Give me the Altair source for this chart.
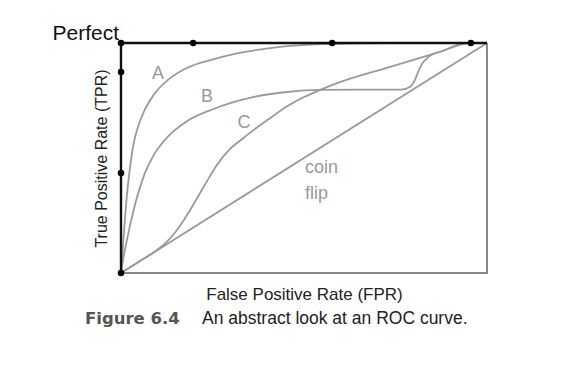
import altair as alt
import pandas as pd

# ROC curves (FPR, TPR)
fpr_A = [0.0, 0.003, 0.008, 0.0145, 0.0238, 0.0328, 0.0464, 0.0648, 0.092, 0.128, 0.178, 0.249, 0.339, 0.434, 0.571, 0.75, 1.0]
tpr_A = [0.0, 0.065, 0.175, 0.31, 0.448, 0.549, 0.636, 0.709, 0.781, 0.839, 0.89, 0.928, 0.961, 0.983, 0.996, 1.0, 1.0]

fpr_B = [0.0, 0.006, 0.0145, 0.028, 0.042, 0.065, 0.092, 0.128, 0.178, 0.251, 0.30, 0.361, 0.454, 0.544, 0.653, 0.765,
         0.79, 0.803, 0.812, 0.822, 0.837, 0.85, 0.872, 0.95, 1.0]
tpr_B = [0.0, 0.06, 0.13, 0.23, 0.32, 0.433, 0.52, 0.593, 0.658, 0.712, 0.74, 0.765, 0.787, 0.796, 0.797, 0.797,
         0.81, 0.84, 0.875, 0.908, 0.935, 0.95, 0.962, 1.0, 1.0]

fpr_C = [0.0, 0.05, 0.095, 0.125, 0.153, 0.189, 0.226, 0.262, 0.298, 0.333, 0.361, 0.40, 0.454, 0.50, 0.544, 0.598,
         0.708, 0.817, 0.872, 0.95, 1.0]
tpr_C = [0.0, 0.05, 0.096, 0.135, 0.187, 0.274, 0.375, 0.47, 0.54, 0.585, 0.62, 0.665, 0.725, 0.765, 0.796, 0.83,
         0.883, 0.935, 0.962, 1.0, 1.0]

coin_fpr = [0.0, 1.0]
coin_tpr = [0.0, 1.0]

# black dots on the "perfect" edges
dot_fpr = [0.0, 0.197, 0.577, 0.956, 0.0, 0.0, 0.0]
dot_tpr = [1.0, 1.0, 1.0, 1.0, 0.874, 0.435, 0.0]

# curve labels
label_text = ["A", "B", "C"]
label_fpr = [0.101, 0.235, 0.336]
label_tpr = [0.865, 0.765, 0.652]
coin_text = ["coin", "flip"]
coin_lab_fpr = [0.503, 0.503]
coin_lab_tpr = [0.457, 0.343]

x_title = "False Positive Rate (FPR)"
y_title = "True Positive Rate (TPR)"
caption_bold = "Figure 6.4"
caption_text = "An abstract look at an ROC curve."

rows = []
for name, xs_, ys_ in [("A", fpr_A, tpr_A), ("B", fpr_B, tpr_B), ("C", fpr_C, tpr_C)]:
    for i, (a, b) in enumerate(zip(xs_, ys_)):
        rows.append({"curve": name, "fpr": a, "tpr": b, "i": i})
curves_df = pd.DataFrame(rows)
coin_df = pd.DataFrame({"fpr": coin_fpr, "tpr": coin_tpr})
dots_df = pd.DataFrame({"fpr": dot_fpr, "tpr": dot_tpr})
labels_df = pd.DataFrame({"t": label_text, "fpr": label_fpr, "tpr": label_tpr})
coin_lab_df = pd.DataFrame({"t": coin_text, "fpr": coin_lab_fpr, "tpr": coin_lab_tpr})

xs = alt.Scale(domain=[0, 1], nice=False, zero=False)
ys = alt.Scale(domain=[0, 1], nice=False, zero=False)
x_ax = alt.Axis(title=x_title, labels=False, ticks=False, domain=False, grid=False,
                titleFont="Liberation Sans", titleFontSize=17, titleFontWeight="normal",
                titleColor="#222222", titlePadding=13)
y_ax = alt.Axis(title=y_title, labels=False, ticks=False, domain=False, grid=False,
                titleFont="Liberation Sans", titleFontSize=16, titleFontWeight="normal",
                titleColor="#222222", titlePadding=12)

base_x = alt.X("fpr:Q", scale=xs, axis=x_ax)
base_y = alt.Y("tpr:Q", scale=ys, axis=y_ax)
px = alt.X("fpr:Q", scale=xs)
py = alt.Y("tpr:Q", scale=ys)

gray_box = alt.Chart(pd.DataFrame({"fpr": [0.0, 1.0, 1.0], "tpr": [0.0, 0.0, 1.0]})).mark_line(
    color="#8a8a8a", strokeWidth=2).encode(x=px, y=py)

curves = alt.Chart(curves_df).mark_line(color="#9a9a9a", strokeWidth=1.8, interpolate="monotone").encode(
    x=base_x, y=base_y, detail="curve:N", order="i:Q")

coin = alt.Chart(coin_df).mark_line(color="#9a9a9a", strokeWidth=1.8).encode(x=px, y=py)

black_box = alt.Chart(pd.DataFrame({"fpr": [0.0, 0.0, 1.0], "tpr": [0.0, 1.0, 1.0]})).mark_line(
    color="#111111", strokeWidth=2.4).encode(x=px, y=py)

dots = alt.Chart(dots_df).mark_circle(color="black", size=42, opacity=1).encode(x=px, y=py)

labels = alt.Chart(labels_df).mark_text(font="Liberation Sans", fontSize=18, color="#999999",
                                        align="center", baseline="middle").encode(x=px, y=py, text="t:N")

coin_labels = alt.Chart(coin_lab_df).mark_text(font="Liberation Sans", fontSize=18, color="#999999",
                                               align="left", baseline="middle").encode(x=px, y=py, text="t:N")

perfect = alt.Chart(pd.DataFrame({"fpr": [0.0], "tpr": [1.0], "t": ["Perfect"]})).mark_text(
    font="Liberation Sans", fontSize=21, color="#111111", align="right", baseline="alphabetic",
    dx=-2, dy=-3).encode(x=px, y=py, text="t:N")

cap1 = alt.Chart(pd.DataFrame({"t": [caption_bold]})).mark_text(
    font="DejaVu Sans", fontSize=16.5, fontWeight="bold", color="#555555", align="left",
    baseline="alphabetic").encode(x=alt.value(-36), y=alt.value(281), text="t:N")
cap2 = alt.Chart(pd.DataFrame({"t": [caption_text]})).mark_text(
    font="Liberation Sans", fontSize=17.5, color="#222222", align="left",
    baseline="alphabetic").encode(x=alt.value(81), y=alt.value(281), text="t:N")

chart = alt.layer(gray_box, curves, coin, black_box, dots, labels, coin_labels, perfect, cap1, cap2).properties(
    width=366, height=230,
    autosize=alt.AutoSizeParams(type="none"),
    padding={"left": 113, "top": 35, "right": 60, "bottom": 80},
).configure_view(stroke=None).configure(background="white")

chart.save("out.html", embed_options={"renderer": "svg", "actions": False})
